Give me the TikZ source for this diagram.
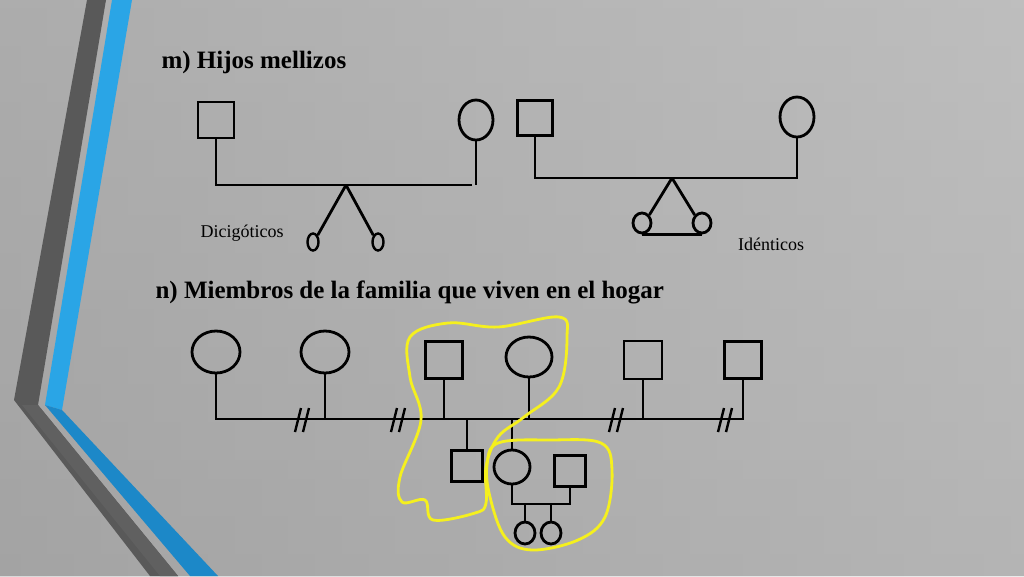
\documentclass[tikz,border=0pt]{standalone}
\usepackage{fontspec}
\setmainfont{Liberation Serif}
\usetikzlibrary{shapes.geometric}
\begin{document}
\begin{tikzpicture}[x=1pt,y=-1pt,
  ln/.style={line width=2.8pt,black},
  sq/.style={draw,line width=2.8pt,rectangle,minimum width=#1pt,minimum height=#1pt,inner sep=0pt},
  el/.style={draw,line width=2.8pt,ellipse,inner sep=0pt},
  yl/.style={line width=2.8pt,color={rgb,255:red,245;green,240;blue,30}},
  tl/.style={font=\bfseries\fontsize{25}{28}\selectfont,anchor=west}]
\shade[top color=white!96!gray,bottom color=gray!28] (0,0) rectangle (1024,576);
\fill[left color=gray!30,right color=white,opacity=0.45] (0,0) rectangle (1024,576);
\useasboundingbox (0,0) rectangle (1024,576);
% decoration
\fill[gray!70!black] (87,0)--(106,0)--(38,405)--(178,576)--(150,576)--(14,400)--cycle;
\fill[gray!75!black] (38,405)--(178,576)--(160,576)--(22,405)--cycle;
\fill[color={rgb,255:red,42;green,165;blue,230}] (112,0)--(132,0)--(62,410)--(45,405)--cycle;
\fill[color={rgb,255:red,28;green,136;blue,200}] (45,405)--(62,410)--(218,576)--(190,576)--cycle;
% titles
\node[tl] (tm) at (158,62) {m) Hijos mellizos};
\node[tl] (tn) at (152,292) {n) Miembros de la familia que viven en el hogar};
% dizygotic
\node[sq=36] (a1) at (216,120) {};
\node[el,minimum width=34pt,minimum height=40pt] (a2) at (476,120) {};
\coordinate (ab) at (346,185);
\draw[ln] (a1.south) |- (ab) -- (472,185);
\draw[ln] (a2.south) -- (476,185);
\node[el,minimum width=11pt,minimum height=17pt,line width=2.4pt] (a3) at (313,242) {};
\node[el,minimum width=11pt,minimum height=17pt,line width=2.4pt] (a4) at (378,242) {};
\draw[ln] (ab) -- (a3.north east);
\draw[ln] (ab) -- (a4.north west);
\node[font=\fontsize{18}{20}\selectfont] (dz) at (242,233) {Dicigóticos};
% identical
\node[sq=35] (b1) at (535,118) {};
\node[el,minimum width=34pt,minimum height=40pt] (b2) at (797,117) {};
\coordinate (bb) at (672,178);
\draw[ln] (b1.south) |- (bb) -- (797,178) -- (b2.south);
\node[el,minimum width=18pt,minimum height=20pt] (b3) at (642,223) {};
\node[el,minimum width=18pt,minimum height=20pt] (b4) at (702,223) {};
\draw[ln] (bb) -- (b3.north east);
\draw[ln] (bb) -- (b4.north west);
\draw[ln] (b3.south) -- (b4.south);
\node[font=\fontsize{18}{20}\selectfont] (id) at (771,244) {Idénticos};
% household
\node[el,minimum width=48pt,minimum height=42pt] (c1) at (216,352) {};
\node[el,minimum width=48pt,minimum height=42pt] (c2) at (325,352) {};
\node[sq=37] (c3) at (444,360) {};
\node[el,minimum width=46pt,minimum height=40pt] (c4) at (529,357) {};
\node[sq=38] (c5) at (643,360) {};
\node[sq=37] (c6) at (743,360) {};
\coordinate (cl) at (216,419);
\draw[ln] (c1.south) -- (cl) -- (cl -| c6.south) -- (c6.south);
\draw[ln] (c2.south) -- (c2.south |- cl);
\draw[ln] (c3.south) -- (c3.south |- cl);
\draw[ln] (c4.south) -- (c4.south |- cl);
\draw[ln] (c5.south) -- (c5.south |- cl);
\foreach \x in {302,398,616,725}{
  \draw[line width=2.4pt] (\x-7,432)--(\x-1,408) (\x+1,432)--(\x+7,408);}
\node[sq=31] (d1) at (467,466) {};
\node[el,minimum width=36pt,minimum height=34pt] (d2) at (512,467) {};
\node[sq=31] (d3) at (570,471) {};
\draw[ln] (d1.north) -- (d1.north |- cl);
\draw[ln] (d2.north) -- (d2.north |- cl);
\coordinate (db) at (512,504);
\draw[ln] (d2.south) -- (db) -| (d3.south);
\node[el,minimum width=20pt,minimum height=22pt] (e1) at (525,533) {};
\node[el,minimum width=20pt,minimum height=22pt] (e2) at (551,533) {};
\draw[ln] (e1.north) -- (e1.north |- db);
\draw[ln] (e2.north) -- (e2.north |- db);
% yellow loops
\draw[yl,line join=round] plot[smooth cycle,tension=0.6] coordinates {(410,337) (448,323) (498,327) (559,317) (567,337) (559,387) (524,417) (498,437) (486,467) (486,503) (475,513) (433,520) (425,500) (402,502) (400,477) (421,420) (410,377)};
\draw[yl,line join=round] plot[smooth cycle,tension=0.6] coordinates {(498,443) (550,440) (601,443) (612,470) (605,517) (578,540) (532,550) (505,537) (490,497) (487,465)};
\end{tikzpicture}
\end{document}
